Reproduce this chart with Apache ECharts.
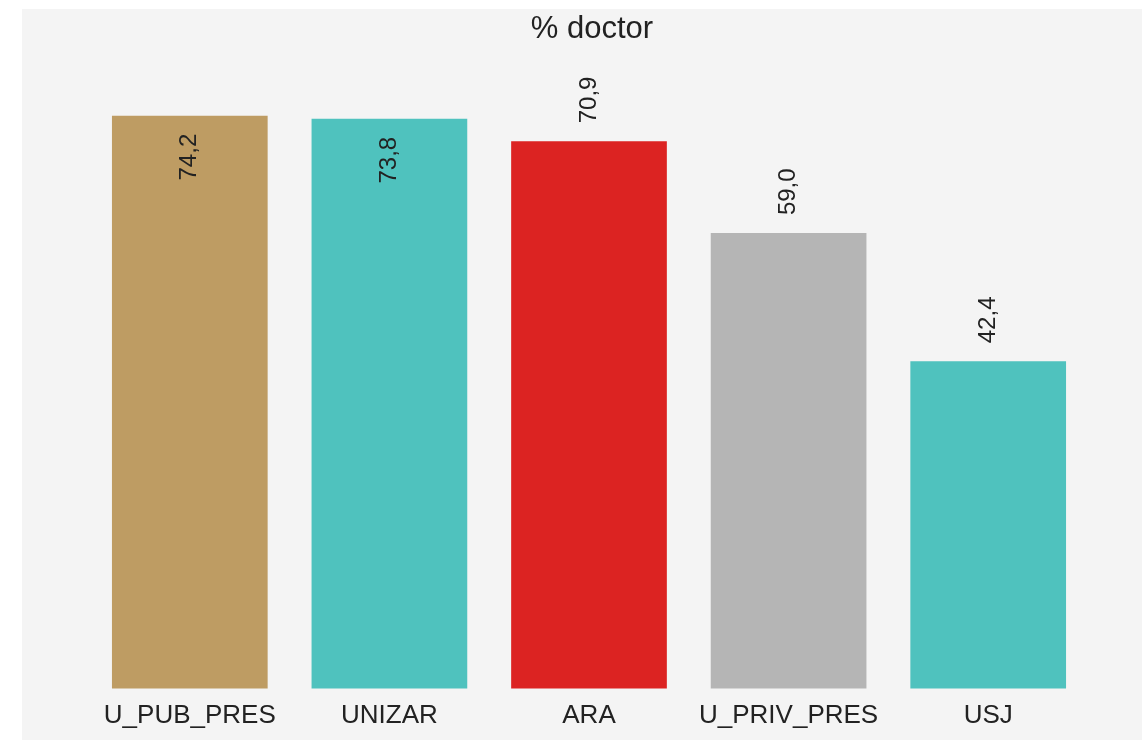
<!DOCTYPE html>
<html>
<head>
<meta charset="utf-8">
<script src="https://cdn.jsdelivr.net/npm/echarts@6/dist/echarts.min.js"></script>
<style>
html,body{margin:0;padding:0;background:#ffffff;overflow:hidden;width:1142px;height:740px;}
#chart{position:absolute;left:22px;top:9px;width:1140px;height:731px;}
</style>
</head>
<body>
<div id="chart"></div>
<script>
const categories = ['U_PUB_PRES', 'UNIZAR', 'ARA', 'U_PRIV_PRES', 'USJ'];
const values = [74.2, 73.8, 70.9, 59.0, 42.4];
const barColors = ['#be9c63', '#4fc2be', '#dc2322', '#b5b5b5', '#4fc2be'];
const labelInside = [true, true, false, false, false];

const chart = echarts.init(document.getElementById('chart'));
const data = values.map((v, i) => ({
  value: v,
  itemStyle: { color: barColors[i] },
  label: labelInside[i]
    ? { position: 'insideTop', rotate: 90, align: 'right', verticalAlign: 'middle', distance: 18 }
    : { position: 'top', rotate: 90, align: 'left', verticalAlign: 'middle', distance: 18 }
}));
chart.setOption({
  backgroundColor: '#f4f4f4',
  animation: false,
  title: {
    text: '% doctor',
    left: 'center',
    top: 0,
    textStyle: { fontFamily: 'Liberation Sans, Arial, sans-serif', fontSize: 31, fontWeight: 'normal', color: '#222222' }
  },
  grid: { left: 68, right: 74, top: 62, bottom: 51.5, containLabel: false },
  xAxis: {
    type: 'category',
    data: categories,
    axisLine: { show: false },
    axisTick: { show: false },
    axisLabel: { interval: 0, fontFamily: 'Liberation Sans, Arial, sans-serif', fontSize: 26, color: '#222222', margin: 14 }
  },
  yAxis: {
    type: 'value',
    min: 0,
    max: 80,
    show: false,
    splitLine: { show: false }
  },
  series: [{
    type: 'bar',
    data: data,
    barWidth: '78%',
    label: {
      show: true,
      fontFamily: 'Liberation Sans, Arial, sans-serif',
      fontSize: 24,
      color: '#222222',
      formatter: p => p.value.toFixed(1).replace('.', ',')
    }
  }]
});
</script>
</body>
</html>
